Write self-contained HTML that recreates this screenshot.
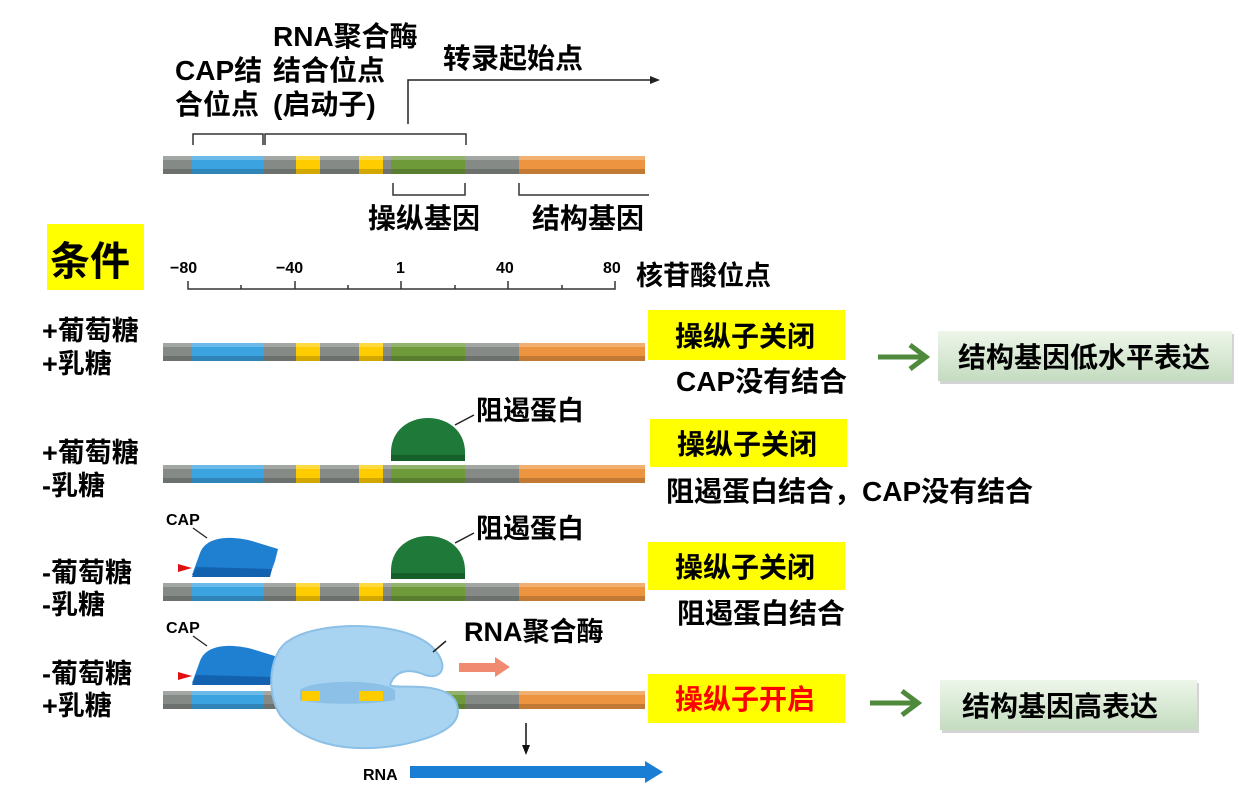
<!DOCTYPE html>
<html><head><meta charset="utf-8"><style>
body{margin:0;background:#fff}
svg text{font-family:"Liberation Sans","Noto Sans CJK SC",sans-serif;font-weight:bold;fill:#000}
</style></head><body>
<svg width="1248" height="791" viewBox="0 0 1248 791" xmlns="http://www.w3.org/2000/svg">
<defs>
<g id="bar">
<rect x="163" y="0" width="482" height="18" fill="#858a86"/>
<rect x="192" y="0" width="72" height="18" fill="#3aa3e0"/>
<rect x="296" y="0" width="24" height="18" fill="#ffcc00"/>
<rect x="359" y="0" width="24" height="18" fill="#ffcc00"/>
<rect x="391" y="0" width="74" height="18" fill="#6e9a3a"/>
<rect x="519" y="0" width="126" height="18" fill="#ec9440"/>
<rect x="163" y="0" width="482" height="4" fill="#fff" opacity="0.25"/>
<rect x="163" y="13" width="482" height="5" fill="#000" opacity="0.18"/>
</g>
<g id="rep">
<path d="M391 -4 L391 -14 C393 -58 463 -58 465 -14 L465 -4 Z" fill="#1f7a3a"/>
<rect x="391" y="-10" width="74" height="6" fill="#155f2b"/>
<line x1="455" y1="-40" x2="474" y2="-50" stroke="#222" stroke-width="1.5"/>
<text x="476" y="-45" font-size="27">阻遏蛋白</text>
</g>
<g id="cap">
<path d="M192 -8 L200 -30 C206 -46 228 -48 252 -42 L278 -34 L275 -22 L270 -8 Z" fill="#1f7fd0"/>
<path d="M196 -16 L272 -14 L270 -6 L192 -6 Z" fill="#1262b0"/>
<polygon points="178,-19 192,-15 178,-11" fill="#e01010"/>
<line x1="193" y1="-55" x2="207" y2="-45" stroke="#222" stroke-width="1.3"/>
<text x="166" y="-58" font-size="16">CAP</text>
</g>
</defs>

<!-- top section -->
<text x="273" y="46" font-size="28">RNA聚合酶</text>
<text x="273" y="80" font-size="28">结合位点</text>
<text x="273" y="114" font-size="28">(启动子)</text>
<text x="175" y="80" font-size="28">CAP结</text>
<text x="175" y="114" font-size="28">合位点</text>
<text x="443" y="68" font-size="28">转录起始点</text>
<path d="M408 124 L408 80 L652 80" fill="none" stroke="#222" stroke-width="1.5"/>
<polygon points="650,76 660,80 650,84" fill="#222"/>
<path d="M193 145 L193 134 L263 134 L263 145 M265 145 L265 134 L466 134 L466 145" fill="none" stroke="#333" stroke-width="1.5"/>
<use href="#bar" y="156"/>
<path d="M393 183 L393 195 L465 195 L465 183 M519 183 L519 195 L649 195" fill="none" stroke="#333" stroke-width="1.5"/>
<text x="368" y="228" font-size="28">操纵基因</text>
<text x="532" y="228" font-size="28">结构基因</text>

<!-- scale -->
<rect x="47" y="224" width="97" height="66" fill="#ffff00"/>
<text x="50" y="275" font-size="40">条件</text>
<text x="170" y="273" font-size="16">−80</text>
<text x="276" y="273" font-size="16">−40</text>
<text x="396" y="273" font-size="16">1</text>
<text x="496" y="273" font-size="16">40</text>
<text x="603" y="273" font-size="16">80</text>
<text x="636" y="285" font-size="27">核苷酸位点</text>
<path d="M188 281 L188 289 L615 289 L615 281" fill="none" stroke="#333" stroke-width="1.5"/>
<g stroke="#333" stroke-width="1.5">
<line x1="241" y1="285" x2="241" y2="289"/><line x1="295" y1="281" x2="295" y2="289"/>
<line x1="348" y1="285" x2="348" y2="289"/><line x1="401" y1="281" x2="401" y2="289"/>
<line x1="455" y1="285" x2="455" y2="289"/><line x1="508" y1="281" x2="508" y2="289"/>
<line x1="562" y1="285" x2="562" y2="289"/></g>

<!-- row labels -->
<text x="42" y="340" font-size="27">+葡萄糖</text>
<text x="42" y="373" font-size="27">+乳糖</text>
<text x="42" y="462" font-size="27">+葡萄糖</text>
<text x="42" y="495" font-size="27">-乳糖</text>
<text x="42" y="582" font-size="27">-葡萄糖</text>
<text x="42" y="614" font-size="27">-乳糖</text>
<text x="42" y="683" font-size="27">-葡萄糖</text>
<text x="42" y="715" font-size="27">+乳糖</text>

<!-- rows -->
<use href="#bar" y="343"/>
<use href="#bar" y="465"/>
<g transform="translate(0,465)"><use href="#rep"/></g>
<use href="#bar" y="583"/>
<g transform="translate(0,583)"><use href="#rep"/><use href="#cap"/></g>
<use href="#bar" y="691"/>
<g transform="translate(0,691)"><use href="#cap"/></g>

<!-- RNA polymerase -->
<path d="M290 640 C320 620 410 620 435 650 C450 668 440 680 425 675 C410 668 395 670 390 685 C395 690 440 680 455 700 C465 720 450 735 400 745 C340 755 300 740 280 715 C265 690 270 650 290 640 Z" fill="#a8d4f2" stroke="#8cc0e6" stroke-width="2"/>
<path d="M300 690 C310 680 380 678 395 690 L395 700 C370 705 320 705 300 700 Z" fill="#8cc0e6"/>
<rect x="302" y="691" width="18" height="10" fill="#ffcc00"/>
<rect x="359" y="691" width="24" height="10" fill="#ffcc00"/>
<line x1="433" y1="652" x2="446" y2="641" stroke="#222" stroke-width="1.5"/>
<text x="464" y="641" font-size="27">RNA聚合酶</text>
<rect x="459" y="663" width="38" height="9" fill="#f08a70"/>
<polygon points="495,657 510,667 495,677" fill="#f08a70"/>
<line x1="526" y1="723" x2="526" y2="748" stroke="#111" stroke-width="1.5"/>
<polygon points="522,745 526,755 530,745" fill="#111"/>
<text x="363" y="780" font-size="16">RNA</text>
<rect x="410" y="766" width="238" height="12" fill="#1a7fd4"/>
<polygon points="645,761 663,772 645,783" fill="#1a7fd4"/>

<!-- right side -->
<rect x="648" y="310" width="197" height="50" fill="#ffff00"/>
<text x="675" y="346" font-size="28">操纵子关闭</text>
<text x="676" y="391" font-size="28">CAP没有结合</text>
<rect x="650" y="419" width="197" height="48" fill="#ffff00"/>
<text x="677" y="454" font-size="28">操纵子关闭</text>
<text x="666" y="501" font-size="28">阻遏蛋白结合，CAP没有结合</text>
<rect x="648" y="542" width="197" height="48" fill="#ffff00"/>
<text x="675" y="577" font-size="28">操纵子关闭</text>
<text x="677" y="623" font-size="28">阻遏蛋白结合</text>
<rect x="648" y="674" width="197" height="49" fill="#ffff00"/>
<text x="675" y="709" font-size="28" style="fill:#ff0000">操纵子开启</text>

<g fill="#4f8a3c" stroke="#4f8a3c">
<line x1="878" y1="357" x2="922" y2="357" stroke-width="5"/>
<polyline points="910,345 926,357 910,369" fill="none" stroke-width="5"/>
<line x1="870" y1="703" x2="914" y2="703" stroke-width="5"/>
<polyline points="902,691 918,703 902,715" fill="none" stroke-width="5"/>
</g>
<defs><linearGradient id="gg" x1="0" y1="0" x2="0" y2="1"><stop offset="0" stop-color="#eef6ea"/><stop offset="1" stop-color="#c4dcc0"/></linearGradient></defs>
<rect x="940" y="334" width="294" height="50" fill="#aaa" opacity="0.5"/>
<rect x="938" y="331" width="294" height="50" fill="url(#gg)"/>
<text x="958" y="367" font-size="28">结构基因低水平表达</text>
<rect x="942" y="683" width="257" height="50" fill="#aaa" opacity="0.5"/>
<rect x="940" y="680" width="257" height="50" fill="url(#gg)"/>
<text x="962" y="716" font-size="28">结构基因高表达</text>
</svg>
</body></html>
